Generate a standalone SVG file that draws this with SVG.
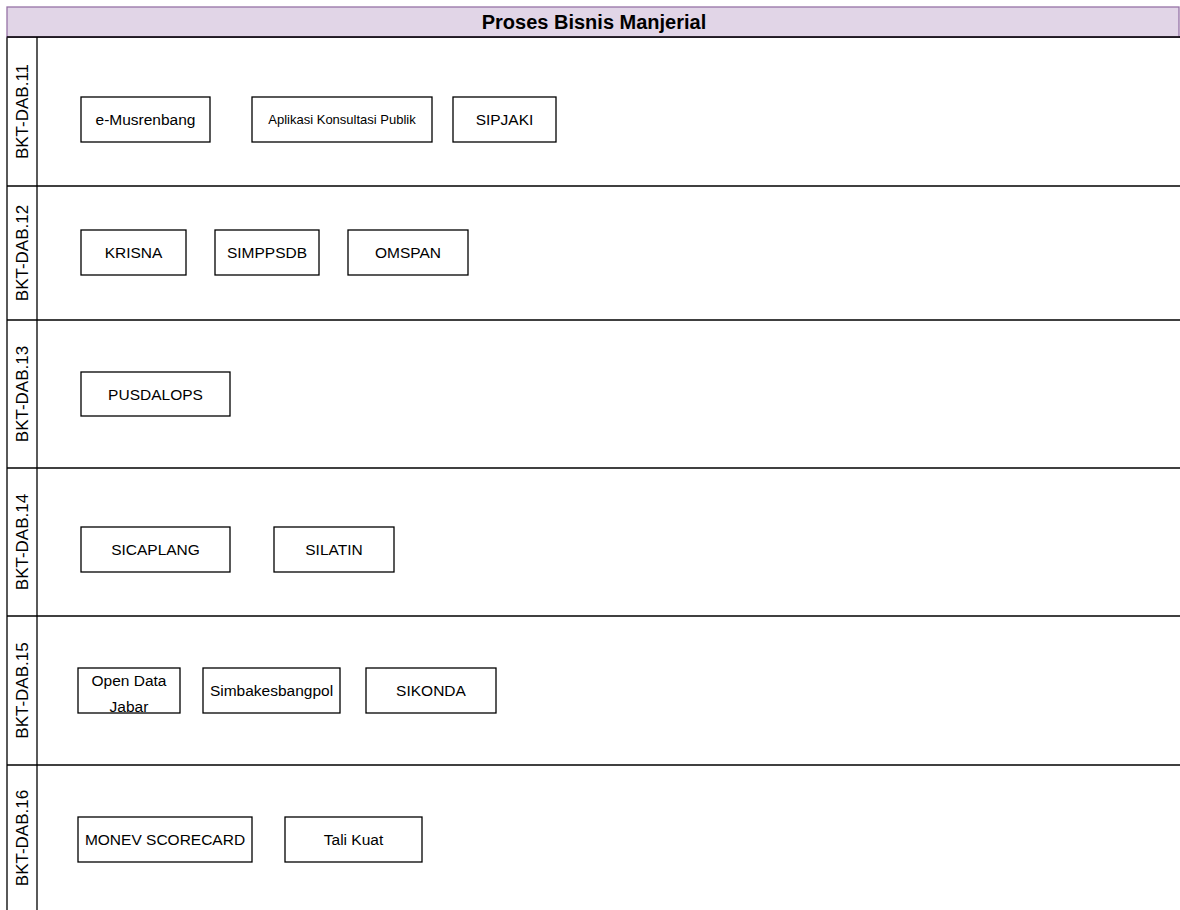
<svg xmlns="http://www.w3.org/2000/svg" width="1180" height="910" viewBox="0 0 1180 910">
  <style>
    .pool { fill: #ffffff; stroke: #000000; stroke-width: 1.3; }
    .head { fill: #e1d5e7; stroke: #9673a6; stroke-width: 1.3; }
    .line { stroke: #000000; stroke-width: 1.3; fill: none; }
    .box { fill: #ffffff; stroke: #000000; stroke-width: 1.3; }
    .t { font-family: "Liberation Sans", Arial, sans-serif; font-size: 15.5px; fill: #000000; text-anchor: middle; dominant-baseline: central; }
    .small { font-size: 13px; }
    .lane { font-size: 17px; }
    .title { font-family: "Liberation Sans", Arial, sans-serif; font-size: 20px; font-weight: bold; fill: #000000; text-anchor: middle; dominant-baseline: central; }
  </style>

  <!-- pool frame and header -->
  <g id="pool">
    <rect class="pool" x="7" y="37" width="1180" height="890"/>
    <rect class="head" x="7" y="7" width="1172" height="30"/>
    <line class="line" x1="7" y1="37" x2="1180" y2="37"/>
    <text class="title" x="594" y="22">Proses Bisnis Manjerial</text>
  </g>

  <!-- lanes -->
  <g id="lanes">
    <line class="line" x1="37" y1="37" x2="37" y2="910"/>
    <line class="line" x1="7" y1="186" x2="1180" y2="186"/>
    <line class="line" x1="7" y1="320" x2="1180" y2="320"/>
    <line class="line" x1="7" y1="468" x2="1180" y2="468"/>
    <line class="line" x1="7" y1="616" x2="1180" y2="616"/>
    <line class="line" x1="7" y1="765" x2="1180" y2="765"/>
    <text class="t lane" transform="translate(22,111.5) rotate(-90)">BKT-DAB.11</text>
    <text class="t lane" transform="translate(22,253) rotate(-90)">BKT-DAB.12</text>
    <text class="t lane" transform="translate(22,394) rotate(-90)">BKT-DAB.13</text>
    <text class="t lane" transform="translate(22,542) rotate(-90)">BKT-DAB.14</text>
    <text class="t lane" transform="translate(22,690.5) rotate(-90)">BKT-DAB.15</text>
    <text class="t lane" transform="translate(22,838) rotate(-90)">BKT-DAB.16</text>
  </g>

  <!-- BKT-DAB.11 -->
  <g id="e-musrenbang">
    <rect class="box" x="81" y="97" width="129" height="45"/>
    <text class="t" x="145.5" y="119.5">e-Musrenbang</text>
  </g>
  <g id="aplikasi-konsultasi-publik">
    <rect class="box" x="252" y="97" width="180" height="45"/>
    <text class="t small" x="342" y="119.5">Aplikasi Konsultasi Publik</text>
  </g>
  <g id="sipjaki">
    <rect class="box" x="453" y="97" width="103" height="45"/>
    <text class="t" x="504.5" y="119.5">SIPJAKI</text>
  </g>

  <!-- BKT-DAB.12 -->
  <g id="krisna">
    <rect class="box" x="81" y="230" width="105" height="45"/>
    <text class="t" x="133.5" y="252.5">KRISNA</text>
  </g>
  <g id="simppsdb">
    <rect class="box" x="215" y="230" width="104" height="45"/>
    <text class="t" x="267" y="252.5">SIMPPSDB</text>
  </g>
  <g id="omspan">
    <rect class="box" x="348" y="230" width="120" height="45"/>
    <text class="t" x="408" y="252.5">OMSPAN</text>
  </g>

  <!-- BKT-DAB.13 -->
  <g id="pusdalops">
    <rect class="box" x="81" y="372" width="149" height="44"/>
    <text class="t" x="155.5" y="394">PUSDALOPS</text>
  </g>

  <!-- BKT-DAB.14 -->
  <g id="sicaplang">
    <rect class="box" x="81" y="527" width="149" height="45"/>
    <text class="t" x="155.5" y="549.5">SICAPLANG</text>
  </g>
  <g id="silatin">
    <rect class="box" x="274" y="527" width="120" height="45"/>
    <text class="t" x="334" y="549.5">SILATIN</text>
  </g>

  <!-- BKT-DAB.15 -->
  <g id="open-data-jabar">
    <rect class="box" x="78" y="668" width="102" height="45"/>
    <text class="t" x="129" y="680">Open Data</text>
    <text class="t" x="129" y="706">Jabar</text>
  </g>
  <g id="simbakesbangpol">
    <rect class="box" x="203" y="668" width="137" height="45"/>
    <text class="t" x="271.5" y="690.5">Simbakesbangpol</text>
  </g>
  <g id="sikonda">
    <rect class="box" x="366" y="668" width="130" height="45"/>
    <text class="t" x="431" y="690.5">SIKONDA</text>
  </g>

  <!-- BKT-DAB.16 -->
  <g id="monev-scorecard">
    <rect class="box" x="78" y="817" width="174" height="45"/>
    <text class="t" x="165" y="839.5">MONEV SCORECARD</text>
  </g>
  <g id="tali-kuat">
    <rect class="box" x="285" y="817" width="137" height="45"/>
    <text class="t" x="353.5" y="839.5">Tali Kuat</text>
  </g>

  <!-- no connectors in this diagram -->
  <g id="connectors"/>
</svg>
